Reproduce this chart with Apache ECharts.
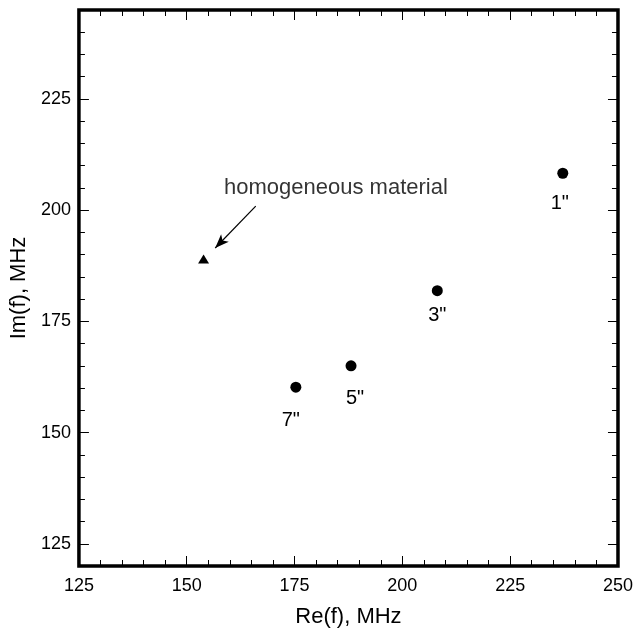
<!DOCTYPE html>
<html>
<head>
<meta charset="utf-8">
<script src="https://cdn.jsdelivr.net/npm/echarts@6/dist/echarts.min.js"></script>
<style>
  html, body { margin: 0; padding: 0; background: #fff; }
  #chart { width: 636px; height: 633px; }
</style>
</head>
<body>
<div id="chart"></div>
<script>
// Sample spacing labels and their complex frequencies
const sizeLabels = ['1"', '3"', '5"', '7"'];
const reValues = [237.2, 208.1, 188.1, 175.3];
const imValues = [208.3, 181.9, 165.0, 160.2];

// Homogeneous material reference point
const homogeneousRe = [153.9];
const homogeneousIm = [189.0];
const annotationText = 'homogeneous material';

// Axis ranges and tick labels
const xTicks = [125, 150, 175, 200, 225, 250];
const yTicks = [125, 150, 175, 200, 225];
const xRange = [125, 250];
const yRange = [120, 245];

// Annotation anchors (data units)
const annotationAt = [184.6, 204.9];
const arrowFrom = [166.0, 200.9];
const arrowTo = [156.6, 191.5];

// Label placement for each sample point (pixels)
const labelOffsets = [[-3, 30], [0, 25], [4, 33], [-5, 33]];

const FONT = '"Liberation Sans", Arial, Helvetica, sans-serif';
const black = '#000';

const pointData = sizeLabels.map((name, i) => ({
  name: name,
  value: [reValues[i], imValues[i]],
  label: { offset: labelOffsets[i] }
}));

function xAxisBase(pos) {
  return {
    type: 'value', position: pos,
    min: xRange[0], max: xRange[1], interval: 25,
    axisLine: { show: false },
    axisTick: { show: true, inside: true, length: 10, lineStyle: { color: black, width: 1 } },
    minorTick: { show: true, splitNumber: 5, length: 6, lineStyle: { color: black, width: 1 } },
    splitLine: { show: false },
    minorSplitLine: { show: false },
    axisLabel: { show: false }
  };
}

function yMinorAxis(pos) {
  return {
    type: 'value', position: pos,
    min: yRange[0], max: yRange[1], interval: 5,
    axisLine: { show: false },
    axisTick: { show: true, inside: true, length: 6, lineStyle: { color: black, width: 1 } },
    splitLine: { show: false },
    axisLabel: { show: false }
  };
}

function yMajorAxis(pos) {
  return {
    type: 'value', position: pos,
    min: yRange[0], max: yRange[1],
    axisLine: { show: false },
    axisTick: { show: true, inside: true, length: 10, customValues: yTicks,
                lineStyle: { color: black, width: 1 } },
    splitLine: { show: false },
    axisLabel: { show: false }
  };
}

const xBottom = xAxisBase('bottom');
xBottom.axisLabel = {
  show: true, color: black, fontSize: 18, fontFamily: FONT, margin: 11,
  customValues: xTicks
};
xBottom.name = 'Re(f), MHz';
xBottom.nameLocation = 'middle';
xBottom.nameGap = 40;
xBottom.nameTextStyle = { color: black, fontSize: 22, fontFamily: FONT };

const yLeftMinor = yMinorAxis('left');
yLeftMinor.axisLabel = {
  show: true, color: black, fontSize: 18, fontFamily: FONT, margin: 8,
  customValues: yTicks
};
yLeftMinor.name = 'Im(f), MHz';
yLeftMinor.nameLocation = 'middle';
yLeftMinor.nameGap = 43;
yLeftMinor.nameTextStyle = { color: black, fontSize: 22, fontFamily: FONT };

const chart = echarts.init(document.getElementById('chart'), null, { renderer: 'canvas' });

chart.setOption({
  animation: false,
  backgroundColor: '#fff',
  grid: {
    left: 76, right: 14, top: 10, bottom: 66,
    show: true, borderColor: black, borderWidth: 3.5, backgroundColor: 'transparent'
  },
  xAxis: [xBottom, xAxisBase('top')],
  yAxis: [yLeftMinor, yMajorAxis('left'), yMinorAxis('right'), yMajorAxis('right')],
  series: [
    {
      name: 'samples',
      type: 'scatter',
      xAxisIndex: 0, yAxisIndex: 0,
      symbol: 'circle',
      symbolSize: 11,
      itemStyle: { color: black, opacity: 1 },
      label: {
        show: true, position: 'inside',
        formatter: p => p.name,
        color: black, fontSize: 20, fontFamily: FONT
      },
      data: pointData
    },
    {
      name: 'homogeneous',
      type: 'scatter',
      xAxisIndex: 0, yAxisIndex: 0,
      symbol: 'triangle',
      symbolSize: [11, 9],
      itemStyle: { color: black, opacity: 1 },
      data: homogeneousRe.map((x, i) => [x, homogeneousIm[i]]),
      markLine: {
        silent: true,
        symbol: ['none', 'arrow'],
        symbolSize: [8, 14],
        lineStyle: { color: black, width: 1.2, type: 'solid' },
        label: { show: false },
        data: [[{ coord: arrowFrom }, { coord: arrowTo }]]
      }
    },
    {
      name: 'annotation',
      type: 'scatter',
      xAxisIndex: 0, yAxisIndex: 0,
      symbolSize: 0,
      itemStyle: { color: 'transparent' },
      label: {
        show: true, position: 'inside',
        formatter: annotationText,
        color: black, fontSize: 22, fontFamily: FONT
      },
      data: [annotationAt]
    }
  ]
});
</script>
</body>
</html>
